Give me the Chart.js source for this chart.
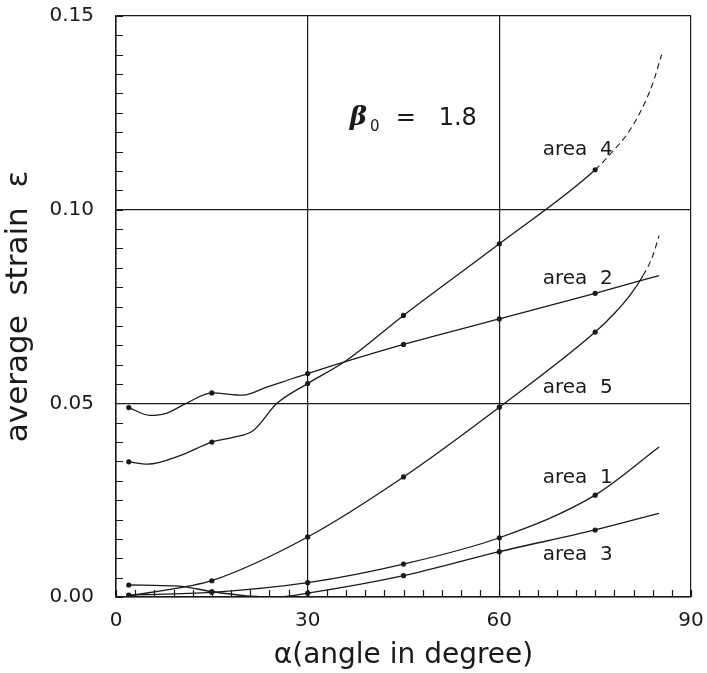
<!DOCTYPE html>
<html>
<head>
<meta charset="utf-8">
<script src="https://cdn.jsdelivr.net/npm/chart.js@4/dist/chart.umd.min.js"></script>
<style>
  html, body { margin: 0; padding: 0; background: #fff; }
  #wrap { width: 707px; height: 673px; }
</style>
</head>
<body>
<div id="wrap"><canvas id="c" width="707" height="673"></canvas></div>
<script>
// ---- data ----
const markerAngles = [2, 15, 30, 45, 60, 75];

const area4X = [2, 5, 10, 15, 18.3, 21.5, 25.2, 30, 36, 45, 60, 75, 78, 80, 82, 84, 85.4];
const area4Y = [0.0349, 0.0343, 0.0365, 0.0400, 0.0412, 0.0430, 0.0500, 0.0551, 0.0610, 0.0727, 0.0912, 0.1103, 0.1155, 0.1195, 0.1250, 0.1325, 0.1400];

const area2X = [2, 5.3, 8, 11, 15, 19.9, 23.6, 26, 30, 45, 60, 75, 85];
const area2Y = [0.0489, 0.0469, 0.0475, 0.0500, 0.0527, 0.0521, 0.0542, 0.0555, 0.0577, 0.0652, 0.0718, 0.0784, 0.0830];

const area5X = [2, 11.3, 15, 30, 45, 60, 75, 78, 80.5, 82.5, 84, 85];
const area5Y = [0.0003, 0.0028, 0.0042, 0.0155, 0.0310, 0.0490, 0.0684, 0.0732, 0.0780, 0.0830, 0.0880, 0.0933];

const area1X = [2, 15, 30, 45, 60, 75, 85];
const area1Y = [0.0005, 0.0012, 0.0037, 0.0085, 0.0153, 0.0263, 0.0387];

const area3X = [2, 9.8, 15, 20.4, 25, 30, 45, 60, 75, 85];
const area3Y = [0.0031, 0.0028, 0.0014, 0.0003, 0.0000, 0.0010, 0.0055, 0.0117, 0.0173, 0.0216];

const xTickLabels = [0, 30, 60, 90];
const yTickLabels = [0.00, 0.05, 0.10, 0.15];

const seriesLabels = [
  { text: 'area  4', x: 66.8, y: 0.1155 },
  { text: 'area  2', x: 66.8, y: 0.0822 },
  { text: 'area  5', x: 66.8, y: 0.0539 },
  { text: 'area  1', x: 66.8, y: 0.0307 },
  { text: 'area  3', x: 66.8, y: 0.0108 }
];
const betaLabel = { x: 36.6, y: 0.1235, value: '1.8' };

// ---- helpers ----
function pts(xs, ys) { return xs.map((x, i) => ({ x: x, y: ys[i] })); }
const isMarker = ctx => ctx.raw && markerAngles.includes(ctx.raw.x);
const INK = '#1a1a1a';

function lineDs(name, xs, ys, dashFrom) {
  return {
    label: name,
    data: pts(xs, ys),
    borderColor: INK,
    backgroundColor: INK,
    borderWidth: 1.3,
    cubicInterpolationMode: 'monotone',
    pointRadius: ctx => isMarker(ctx) ? 2.6 : 0,
    pointHoverRadius: 0,
    pointBorderWidth: 0,
    segment: {
      borderDash: ctx => (dashFrom !== null && ctx.p0.parsed.x >= dashFrom) ? [6, 4] : undefined,
      borderWidth: ctx => (dashFrom !== null && ctx.p0.parsed.x >= dashFrom) ? 1.1 : 1.3
    }
  };
}

const isMajorX = v => xTickLabels.some(t => Math.abs(t - v) < 1e-6);
const isMajorY = v => yTickLabels.some(t => Math.abs(t - v) < 1e-7);

function zeroPad(s) { s.paddingTop = 0; s.paddingBottom = 0; s.paddingLeft = 0; s.paddingRight = 0; }

// plugin: inner minor ticks + text annotations
const decor = {
  id: 'decor',
  afterDatasetsDraw(chart) {
    const ctx = chart.ctx;
    const xs = chart.scales.x, ys = chart.scales.y;
    const area = chart.chartArea;
    ctx.save();
    ctx.strokeStyle = INK;
    ctx.lineWidth = 1.2;
    ctx.beginPath();
    xs.ticks.forEach(t => {
      const px = Math.round(xs.getPixelForValue(t.value)) + 0.5;
      ctx.moveTo(px, area.bottom);
      ctx.lineTo(px, area.bottom - 7);
    });
    ys.ticks.forEach(t => {
      const py = Math.round(ys.getPixelForValue(t.value)) + 0.5;
      ctx.moveTo(area.left, py);
      ctx.lineTo(area.left + 7, py);
    });
    ctx.stroke();

    // series labels
    ctx.fillStyle = INK;
    ctx.textBaseline = 'middle';
    ctx.textAlign = 'left';
    ctx.font = '20px "DejaVu Sans"';
    seriesLabels.forEach(l => {
      ctx.fillText(l.text, xs.getPixelForValue(l.x), ys.getPixelForValue(l.y));
    });

    // beta_0 = 1.8
    let bx = xs.getPixelForValue(betaLabel.x);
    const by = ys.getPixelForValue(betaLabel.y);
    ctx.font = 'italic bold 26px "DejaVu Serif"';
    ctx.fillText('β', bx, by);
    bx += ctx.measureText('β').width + 3;
    ctx.font = '15px "DejaVu Sans"';
    ctx.fillText('0', bx, by + 8);
    bx += ctx.measureText('0').width + 16;
    ctx.font = '24px "DejaVu Sans"';
    ctx.fillText('=   ' + betaLabel.value, bx, by);
    ctx.restore();
  }
};

new Chart(document.getElementById('c'), {
  type: 'line',
  data: {
    datasets: [
      lineDs('area 4', area4X, area4Y, 75),
      lineDs('area 2', area2X, area2Y, null),
      lineDs('area 5', area5X, area5Y, 81),
      lineDs('area 1', area1X, area1Y, null),
      lineDs('area 3', area3X, area3Y, null)
    ]
  },
  options: {
    responsive: false,
    animation: false,
    devicePixelRatio: 1,
    layout: { autoPadding: false, padding: { top: 16, right: 16, left: 0, bottom: 0 } },
    plugins: { legend: { display: false }, tooltip: { enabled: false } },
    scales: {
      x: {
        type: 'linear',
        min: 0, max: 90,
        afterFit: s => { s.height = 76; zeroPad(s); },
        ticks: {
          stepSize: 3,
          autoSkip: false,
          maxRotation: 0,
          padding: 12,
          color: INK,
          font: { family: 'DejaVu Sans', size: 20 },
          callback: v => isMajorX(v) ? String(v) : ''
        },
        grid: {
          drawTicks: false,
          lineWidth: 1.2,
          color: ctx => isMajorX(ctx.tick.value) ? INK : 'rgba(0,0,0,0)'
        },
        border: { display: true, color: INK, width: 1.5 },
        title: {
          display: true,
          text: 'α(angle in degree)',
          color: INK,
          font: { family: 'DejaVu Sans', size: 28 },
          padding: { top: 0, bottom: 0 }
        }
      },
      y: {
        type: 'linear',
        min: 0, max: 0.15,
        afterFit: s => { s.width = 116; zeroPad(s); },
        ticks: {
          stepSize: 0.005,
          autoSkip: false,
          padding: 22,
          color: INK,
          font: { family: 'DejaVu Sans', size: 20 },
          callback: v => isMajorY(v) ? v.toFixed(2) : ''
        },
        grid: {
          drawTicks: false,
          lineWidth: 1.2,
          color: ctx => isMajorY(ctx.tick.value) ? INK : 'rgba(0,0,0,0)'
        },
        border: { display: true, color: INK, width: 1.5 },
        title: {
          display: true,
          text: 'average  strain  ε',
          color: INK,
          font: { family: 'DejaVu Sans', size: 31 },
          padding: { top: 0, bottom: 0 }
        }
      }
    }
  },
  plugins: [decor]
});
</script>
</body>
</html>
